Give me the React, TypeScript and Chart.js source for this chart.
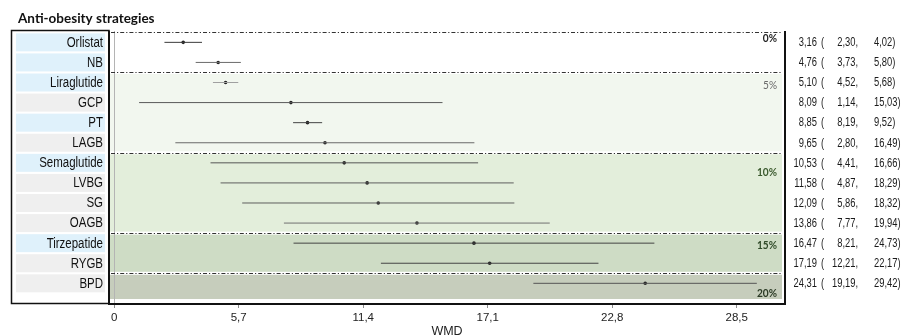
import React, { useEffect, useRef } from 'react';
import { Chart, registerables } from 'chart.js';

Chart.register(...registerables);

// ---------- data ----------
const strategies = ['Orlistat', 'NB', 'Liraglutide', 'GCP', 'PT', 'LAGB', 'Semaglutide', 'LVBG', 'SG', 'OAGB', 'Tirzepatide', 'RYGB', 'BPD'];
const isDrug = [true, true, true, false, true, false, true, false, false, false, true, false, false];
const wmd = [3.16, 4.76, 5.10, 8.09, 8.85, 9.65, 10.53, 11.58, 12.09, 13.86, 16.47, 17.19, 24.31];
const ciLow = [2.30, 3.73, 4.52, 1.14, 8.19, 2.80, 4.41, 4.87, 5.86, 7.77, 8.21, 12.21, 19.19];
const ciHigh = [4.02, 5.80, 5.68, 15.03, 9.52, 16.49, 16.66, 18.29, 18.32, 19.94, 24.73, 22.17, 29.42];
const xTicks = [0, 5.7, 11.4, 17.1, 22.8, 28.5];
const bandLabels = ['0%', '5%', '10%', '15%', '20%'];
const bandFirstRow = [0, 2, 6, 10, 12];
const bandLastRow = [1, 5, 9, 11, 12];
const titleText = 'Anti-obesity strategies';
const axisTitle = 'WMD';

// ---------- styles ----------
const bandColors = ['#ffffff', '#f2f7ef', '#e3eedb', '#cedcc5', '#c6cdbc'];
const bandLabelColors = ['#222222', '#6a6a6a', '#3b5a2e', '#2f4a28', '#2b3a25'];
const bandLabelWeights = ['bold', 'normal', 'bold', 'bold', 'bold'];
const bandLabelRowPos = [-0.2, 2.13, 6.46, 10.09, 12.48];
const lineShades = ['#3a3a3a', '#6a6a6a', '#a0a0a0', '#5a5a5a', '#444444', '#6a6a6a', '#555555', '#5f5f5f', '#5f5f5f', '#707070', '#444444', '#444444', '#555555'];
const FAM = '"Liberation Sans", Arial, sans-serif';

const fmt = (v: number) => v.toFixed(2).replace('.', ',');

function drawSqueezed(ctx: CanvasRenderingContext2D, text: string, x: number, y: number, align: CanvasTextAlign, sx: number) {
  ctx.save();
  ctx.translate(x, y);
  ctx.scale(sx, 1);
  ctx.textAlign = align;
  ctx.fillText(text, 0, 0);
  ctx.restore();
}

export default function App() {
  const ref = useRef<HTMLCanvasElement | null>(null);

  useEffect(() => {
    document.body.style.margin = '0';
    const canvas = ref.current;
    if (!canvas) return;

    const decor = {
      id: 'decor',
      beforeDraw(chart: any) {
        const { ctx, chartArea: ca, scales } = chart;
        const ys = scales.y;
        const xs = scales.x;
        ctx.save();
        ctx.fillStyle = '#ffffff';
        ctx.fillRect(0, 0, chart.width, chart.height);

        // bands
        bandLabels.forEach((_, b) => {
          const top = ys.getPixelForValue(bandFirstRow[b] - 0.5) + (b === 0 ? 0 : 1.5);
          const bottom = b === bandLabels.length - 1 ? ca.bottom - 5 : ys.getPixelForValue(bandLastRow[b] + 0.5) - 1.5;
          ctx.fillStyle = bandColors[b];
          ctx.fillRect(ca.left + 1, top, ca.right - ca.left - 4, bottom - top);
        });

        // zero line
        const x0 = Math.round(xs.getPixelForValue(0)) + 0.5;
        ctx.strokeStyle = '#b4b4b4';
        ctx.lineWidth = 1;
        ctx.beginPath();
        ctx.moveTo(x0, ca.top);
        ctx.lineTo(x0, ca.bottom);
        ctx.stroke();

        // dash-dot separators
        ctx.strokeStyle = '#333333';
        ctx.setLineDash([4, 2, 1.2, 2]);
        bandFirstRow.forEach((r) => {
          const y = Math.round(ys.getPixelForValue(r - 0.5)) + 0.5;
          ctx.beginPath();
          ctx.moveTo(ca.left + 2, y);
          ctx.lineTo(ca.right - 3, y);
          ctx.stroke();
        });
        ctx.setLineDash([]);

        // label panel
        strategies.forEach((_, i) => {
          const yc = ys.getPixelForValue(i);
          ctx.fillStyle = isDrug[i] ? '#dff1fb' : '#efefef';
          ctx.fillRect(16, yc - 9, 89, 18);
        });
        ctx.strokeStyle = '#111111';
        ctx.lineWidth = 1.5;
        ctx.strokeRect(11.5, 30.5, ca.left - 11.5, ca.bottom - 31);

        // row labels (text, positioned by the y scale)
        ctx.fillStyle = '#111111';
        ctx.font = `14px ${FAM}`;
        ctx.textBaseline = 'middle';
        strategies.forEach((s, i) => {
          drawSqueezed(ctx, s, 103, ys.getPixelForValue(i) + 0.5, 'right', 0.82);
        });
        ctx.restore();
      },
      afterDraw(chart: any) {
        const { ctx, chartArea: ca, scales } = chart;
        const ys = scales.y;
        ctx.save();
        // frame
        ctx.strokeStyle = '#111111';
        ctx.lineWidth = 2;
        ctx.beginPath();
        ctx.moveTo(ca.left, ca.top);
        ctx.lineTo(ca.left, ca.bottom);
        ctx.lineTo(ca.right, ca.bottom);
        ctx.lineTo(ca.right, ca.top);
        ctx.stroke();

        // band labels
        ctx.textBaseline = 'middle';
        bandLabels.forEach((t, b) => {
          ctx.font = `${bandLabelWeights[b]} 11.5px Lato, "Open Sans", sans-serif`;
          ctx.fillStyle = bandLabelColors[b];
          drawSqueezed(ctx, t, ca.right - 8, ys.getPixelForValue(bandLabelRowPos[b]), 'right', 0.88);
        });

        // right column
        ctx.font = `12px ${FAM}`;
        ctx.fillStyle = '#1a1a1a';
        const sx = 0.78;
        strategies.forEach((_, i) => {
          const y = ys.getPixelForValue(i) + 0.5;
          drawSqueezed(ctx, fmt(wmd[i]), 817, y, 'right', sx);
          drawSqueezed(ctx, '(', 821, y, 'left', sx);
          drawSqueezed(ctx, fmt(ciLow[i]) + ',', 858, y, 'right', sx);
          drawSqueezed(ctx, fmt(ciHigh[i]) + ')', 874, y, 'left', sx);
        });

        // title
        ctx.textBaseline = 'alphabetic';
        ctx.font = `bold 13.5px Lato, "Open Sans", sans-serif`;
        ctx.fillStyle = '#111111';
        drawSqueezed(ctx, titleText, 18, 23, 'left', 1);
        ctx.restore();
      },
    };

    const lineSets = strategies.map((s, i) => ({
      type: 'line' as const,
      label: s,
      data: [{ x: ciLow[i], y: i }, { x: ciHigh[i], y: i }],
      borderColor: lineShades[i],
      borderWidth: 1,
      pointRadius: 0,
      showLine: true,
      fill: false,
    }));

    const chart = new Chart(canvas, {
      type: 'scatter',
      data: {
        datasets: [
          ...lineSets,
          {
            type: 'scatter' as const,
            label: 'WMD',
            data: wmd.map((v, i) => ({ x: v, y: i })),
            pointRadius: 1.8,
            pointBackgroundColor: '#222222',
            pointBorderWidth: 0,
          },
        ] as any,
      },
      options: {
        animation: false,
        responsive: false,
        devicePixelRatio: 1,
        layout: { padding: { left: 0, right: 122, top: 31, bottom: 0 } },
        plugins: { legend: { display: false }, tooltip: { enabled: false }, title: { display: false } },
        scales: {
          x: {
            type: 'linear',
            position: 'bottom',
            min: -0.238,
            max: 30.71,
            afterBuildTicks: (scale: any) => { scale.ticks = xTicks.map((v) => ({ value: v })); },
            afterFit: (scale: any) => { scale.height = 31; },
            grid: { drawOnChartArea: false, drawTicks: true, tickLength: 4, color: '#8c8c8c' },
            border: { display: false },
            ticks: {
              autoSkip: false,
              maxRotation: 0,
              padding: 3,
              color: '#222222',
              font: { family: FAM, size: 11.5 },
              callback: (v: any) => String(v).replace('.', ','),
            },
            title: { display: true, text: axisTitle, padding: 0, color: '#222222', font: { family: FAM, size: 12.5, lineHeight: 0.5 } },
          },
          y: {
            type: 'linear',
            position: 'left',
            reverse: true,
            min: -0.565,
            max: 13.03,
            afterBuildTicks: (scale: any) => { scale.ticks = strategies.map((_, i) => ({ value: i })); },
            afterFit: (scale: any) => { scale.width = 109; },
            grid: { display: false, drawTicks: false },
            border: { display: false },
            ticks: { display: false },
          },
        },
      },
      plugins: [decor],
    } as any);

    return () => chart.destroy();
  }, []);

  return (
    <div style={{ width: 907, height: 335 }}>
      <canvas ref={ref} width={907} height={335} style={{ display: 'block', width: 907, height: 335 }} />
    </div>
  );
}
